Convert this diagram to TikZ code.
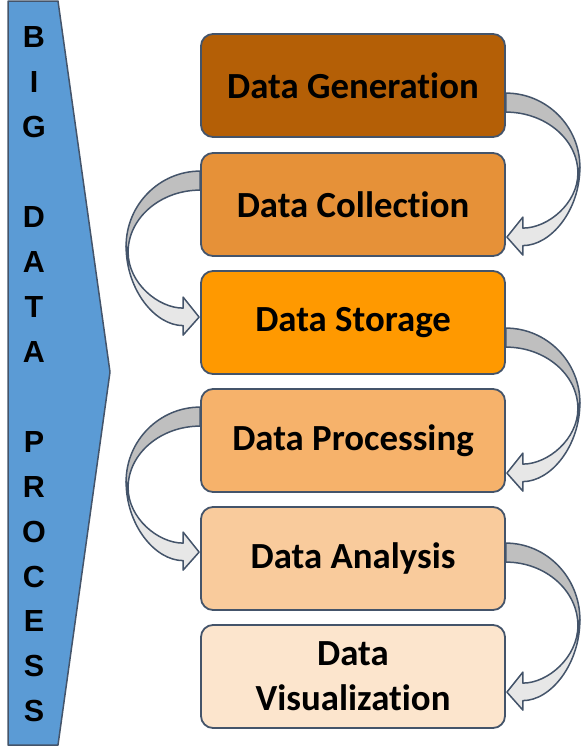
\documentclass[tikz,border=0pt]{standalone}
\usepackage{fontspec}
\setmainfont{Carlito}[Ligatures={NoCommon,NoRequired,NoContextual}]
\newfontfamily\bannerfont{Liberation Sans}
\definecolor{dorangeB}{HTML}{B45F06}
\definecolor{dorangeA}{HTML}{E69138}
\definecolor{orangeM}{HTML}{FF9900}
\definecolor{lorangeA}{HTML}{F6B26B}
\definecolor{lorangeB}{HTML}{F9CB9C}
\definecolor{lorangeC}{HTML}{FCE5CD}
\definecolor{slate}{HTML}{44546A}
\definecolor{bluefill}{HTML}{5B9BD5}
\definecolor{banddark}{HTML}{BFBFBF}
\definecolor{bandlight}{HTML}{E7E7E7}
\tikzset{
  stage/.style={draw=slate, line width=1.8pt, rounded corners=12pt,
    minimum width=304pt, minimum height=103pt, inner sep=0pt, align=center,
    font=\fontsize{36.8}{45}\selectfont\bfseries},
  pentbox/.style={draw=slate, line width=1.5pt, fill=bluefill, line join=round},
  bandstyle/.style={draw=slate, line width=1.5pt, line join=round},
  vlabel/.style={align=center, font=\bannerfont\fontsize{30.5}{44.93}\selectfont\bfseries, inner sep=0pt},
}
% #1 from node, #2 to node, #3 anchor, #4 side (+1 right / -1 left),
% #5 start offset below top of #1, #6 tip offset below top of #2
\newcommand\bendarrow[6]{%
  \path (#1.#3); \pgfgetlastxy{\BAbx}{\BAby}%
  \path (#2.#3); \pgfgetlastxy{\BAcx}{\BAcy}%
  \pgfmathsetmacro\BAs{#4}%
  \pgfmathsetmacro\BAxs{\BAbx}%
  \pgfmathsetmacro\BAya{\BAby-#5}%
  \pgfmathsetmacro\BAyb{\BAya-19}%
  \pgfmathsetmacro\BAyt{\BAcy-#6}%
  \pgfmathsetmacro\BAym{(\BAya+\BAyt)/2-2}%
  \pgfmathsetmacro\BAyq{\BAym-6}%
  \pgfmathsetmacro\BAxR{\BAxs+\BAs*74}%
  \pgfmathsetmacro\BAxQ{\BAxs+\BAs*72}%
  \pgfmathsetmacro\BAxc{\BAxs+\BAs*40.7}%
  \pgfmathsetmacro\BAxd{\BAxs+\BAs*39.6}%
  \pgfmathsetmacro\BAyc{\BAym+0.55*(\BAya-\BAym)}%
  \pgfmathsetmacro\BAyd{\BAyq+0.55*(\BAyb-\BAyq)}%
  \pgfmathsetmacro\BAxh{\BAxs+\BAs*17}%
  \pgfmathsetmacro\BAxe{\BAxs+\BAs*45}%
  \pgfmathsetmacro\BAxf{\BAxs+\BAs*42}%
  \pgfmathsetmacro\BAxt{\BAxs+\BAs*1}%
  \pgfmathsetmacro\BAyo{\BAyt-8.5}%
  \pgfmathsetmacro\BAyi{\BAyt+9}%
  \pgfmathsetmacro\BAyhb{\BAyt-18}%
  \pgfmathsetmacro\BAyht{\BAyt+20}%
  \pgfmathsetmacro\BAye{\BAym-0.55*(\BAym-\BAyo)}%
  \pgfmathsetmacro\BAyf{\BAyq-0.55*(\BAyq-\BAyi)}%
  \filldraw[bandstyle, fill=banddark]
    (\BAxs pt,\BAya pt) .. controls (\BAxc pt,\BAya pt) and (\BAxR pt,\BAyc pt) .. (\BAxR pt,\BAym pt)
    -- (\BAxQ pt,\BAyq pt) .. controls (\BAxQ pt,\BAyd pt) and (\BAxd pt,\BAyb pt) .. (\BAxs pt,\BAyb pt) -- cycle;
  \filldraw[bandstyle, fill=bandlight]
    (\BAxR pt,\BAym pt) .. controls (\BAxR pt,\BAye pt) and (\BAxe pt,\BAyo pt) .. (\BAxh pt,\BAyo pt)
    -- (\BAxh pt,\BAyhb pt) -- (\BAxt pt,\BAyt pt) -- (\BAxh pt,\BAyht pt) -- (\BAxh pt,\BAyi pt)
    .. controls (\BAxf pt,\BAyi pt) and (\BAxQ pt,\BAyf pt) .. (\BAxQ pt,\BAyq pt) -- cycle;
}
\begin{document}
\begin{tikzpicture}[x=1pt, y=-1pt]
\useasboundingbox (0,0) rectangle (581,756);
% left banner
\draw[pentbox] (8,1) -- (58,1) -- (110,372) -- (58,745) -- (8,745) -- cycle;
\node[vlabel] (title) at (34,374.5) {B\\I\\G\\~\\D\\A\\T\\A\\~\\P\\R\\O\\C\\E\\S\\S};
% stages
\node[stage, fill=dorangeB] (gen) at (353,85.5)  {Data Generation};
\node[stage, fill=dorangeA] (col) at (353,204.5) {Data Collection};
\node[stage, fill=orangeM]  (sto) at (353,322.5) {Data Storage};
\node[stage, fill=lorangeA] (pro) at (353,440.5) {Data Processing};
\node[stage, fill=lorangeB] (ana) at (353,558.5) {Data Analysis};
\node[stage, fill=lorangeC] (vis) at (353,676.5) {Data\\Visualization};
% curved arrows
\bendarrow{gen}{col}{north east}{1}{60}{85}
\bendarrow{col}{sto}{north west}{-1}{19}{47}
\bendarrow{sto}{pro}{north east}{1}{58}{85}
\bendarrow{pro}{ana}{north west}{-1}{19}{46}
\bendarrow{ana}{vis}{north east}{1}{37}{68}
\end{tikzpicture}
\end{document}
